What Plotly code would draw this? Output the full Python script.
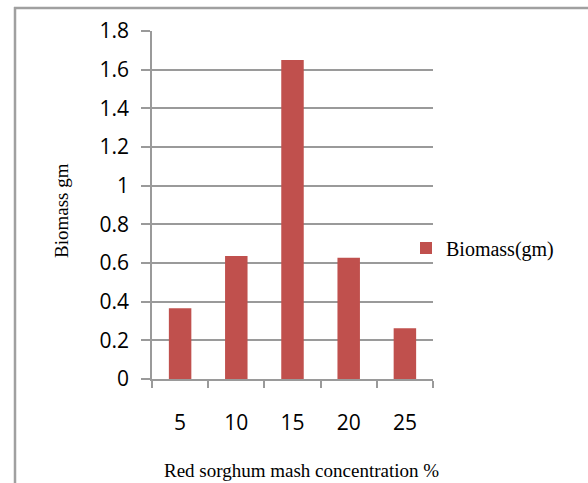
import plotly.graph_objects as go

# ---- data ----
categories = ["5", "10", "15", "20", "25"]
biomass = [0.366, 0.636, 1.65, 0.627, 0.262]
series_name = "Biomass(gm)"
x_title = "Red sorghum mash concentration %"
y_title = "Biomass gm"

W, H = 588, 483
L, R, T, B = 152, 155, 31, 104
pw, ph = W - L - R, H - T - B

def px(x):
    return (x - L) / pw

def py(y):
    return (H - B - y) / ph

grey = "#9a9a9a"
fig = go.Figure()
fig.add_trace(go.Bar(x=categories, y=biomass, name=series_name,
                     marker=dict(color="#C0504D", line=dict(width=0)),
                     width=0.4))

fig.update_layout(
    width=W, height=H,
    margin=dict(l=L, r=R, t=T, b=B, pad=0),
    paper_bgcolor="white", plot_bgcolor="white",
    showlegend=True,
    legend=dict(x=px(406), y=py(248), xanchor="left", yanchor="middle",
                font=dict(family="Liberation Serif", size=20, color="black"),
                itemwidth=30, bgcolor="rgba(0,0,0,0)"),
    xaxis=dict(type="category", showline=True, linecolor=grey, linewidth=1.5,
               ticks="outside", ticklen=7, tickcolor=grey, tickwidth=1.5,
               tickson="boundaries", showgrid=False,
               tickfont=dict(family="Open Sans", size=21, color="black"),
               ticklabelstandoff=24),
    yaxis=dict(range=[0, 1.8], dtick=0.2, showline=True, linecolor=grey,
               linewidth=1.5, ticks="outside", ticklen=9, tickcolor=grey,
               tickwidth=1.5, showgrid=True, gridcolor=grey, gridwidth=1.5,
               zeroline=False,
               tickfont=dict(family="Open Sans", size=21, color="black"),
               ticklabelstandoff=8),
    annotations=[
        dict(text=x_title, xref="paper", yref="paper", x=px(301), y=py(470),
             xanchor="center", yanchor="middle", showarrow=False,
             font=dict(family="Liberation Serif", size=19, color="black")),
        dict(text=y_title, xref="paper", yref="paper", x=px(62), y=py(211),
             xanchor="center", yanchor="middle", showarrow=False, textangle=-90,
             font=dict(family="Liberation Serif", size=19, color="black")),
    ],
    shapes=[
        dict(type="line", xref="paper", yref="paper", x0=px(14), x1=px(W + 5),
             y0=py(8), y1=py(8), line=dict(color="#a0a0a0", width=2.5)),
        dict(type="line", xref="paper", yref="paper", x0=px(15), x1=px(15),
             y0=py(7), y1=py(H + 5), line=dict(color="#a0a0a0", width=2.5)),
    ],
)

fig.write_html("out.html")
